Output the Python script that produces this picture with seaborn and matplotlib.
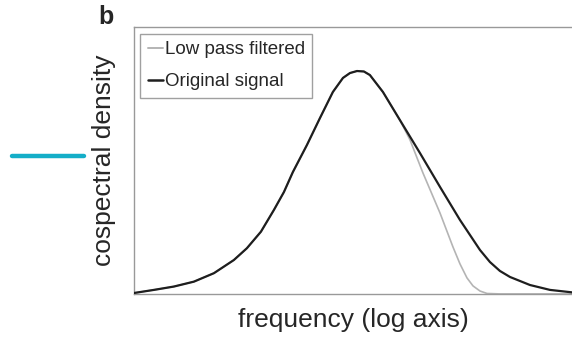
import seaborn as sns
import matplotlib.pyplot as plt
import matplotlib.lines as mlines
import pandas as pd

# log10 frequency positions and cospectral density (peak normalised to 1)
orig_logf = [0.000, 0.183, 0.365, 0.548, 0.731, 0.913, 1.032, 1.160, 1.279, 1.370,
             1.452, 1.580, 1.699, 1.817, 1.909, 1.973, 2.037, 2.100, 2.155, 2.274,
             2.429, 2.612, 2.795, 2.977, 3.160, 3.251, 3.342, 3.434, 3.616, 3.799,
             4.000]
orig_dens = [0.004, 0.018, 0.033, 0.055, 0.093, 0.152, 0.205, 0.279, 0.377, 0.457,
             0.547, 0.668, 0.789, 0.906, 0.969, 0.991, 1.000, 0.998, 0.982, 0.906,
             0.780, 0.632, 0.480, 0.332, 0.197, 0.143, 0.103, 0.076, 0.040, 0.018,
             0.007]

lp_logf = [0.000, 0.183, 0.365, 0.548, 0.731, 0.913, 1.032, 1.160, 1.279, 1.370,
           1.452, 1.580, 1.699, 1.817, 1.909, 1.973, 2.037, 2.100, 2.155, 2.274,
           2.429, 2.521, 2.639, 2.795, 2.913, 2.977, 3.041, 3.096, 3.160, 3.224,
           3.342, 4.000]
lp_dens = [0.004, 0.018, 0.033, 0.055, 0.093, 0.152, 0.205, 0.279, 0.377, 0.457,
           0.547, 0.668, 0.789, 0.906, 0.969, 0.991, 1.000, 0.998, 0.982, 0.906,
           0.780, 0.691, 0.543, 0.363, 0.211, 0.135, 0.072, 0.036, 0.013, 0.002,
           0.000, 0.000]

df = pd.concat([
    pd.DataFrame({'logf': lp_logf, 'dens': lp_dens, 'signal': 'Low pass filtered'}),
    pd.DataFrame({'logf': orig_logf, 'dens': orig_dens, 'signal': 'Original signal'}),
])

sns.set_style('white')
plt.rcParams['font.family'] = ['Liberation Sans', 'DejaVu Sans']

fig = plt.figure(figsize=(5.72, 3.39), dpi=100)
ax = fig.add_axes([0.234, 0.133, 0.766, 0.787])

sns.lineplot(data=df, x='logf', y='dens', hue='signal',
             palette={'Low pass filtered': '#b4b4b4', 'Original signal': '#1e1e1e'},
             hue_order=['Low pass filtered', 'Original signal'],
             linewidth=1.6, ax=ax, sort=False)
ax.lines[0].set_zorder(2)
ax.lines[1].set_zorder(3)
ax.lines[0].set_linewidth(1.2)
for ln in ax.lines:
    ln.set_solid_joinstyle('round')

ax.set_xlim(0, 4)
ax.set_ylim(0, 1.197)
ax.set_xticks([])
ax.set_yticks([])
ax.set_xlabel('frequency (log axis)', fontsize=19, labelpad=10)
ax.set_ylabel('cospectral density', fontsize=19, labelpad=13)

for s in ['left', 'bottom', 'top']:
    ax.spines[s].set_color('#999999')
    ax.spines[s].set_linewidth(1.0)
ax.spines['right'].set_visible(False)

leg = ax.legend(loc='upper left', fontsize=13.5, handlelength=0.8, handletextpad=0.1,
                borderaxespad=0.35, borderpad=0.4, labelspacing=0.8, fancybox=False,
                framealpha=1, edgecolor='#a0a0a0')
leg.get_frame().set_linewidth(1.0)
leg.legend_handles[0].set_linewidth(1.4)
leg.legend_handles[1].set_linewidth(1.8)

fig.text(0.185, 0.95, 'b', fontsize=18, fontweight='bold', ha='center', va='center')

# cyan marker line at left
fig.add_artist(mlines.Line2D([12 / 572, 84 / 572], [1 - 156 / 339, 1 - 156 / 339],
                             color='#14aec8', linewidth=3.2, transform=fig.transFigure))

plt.savefig('out.png', dpi=100)
